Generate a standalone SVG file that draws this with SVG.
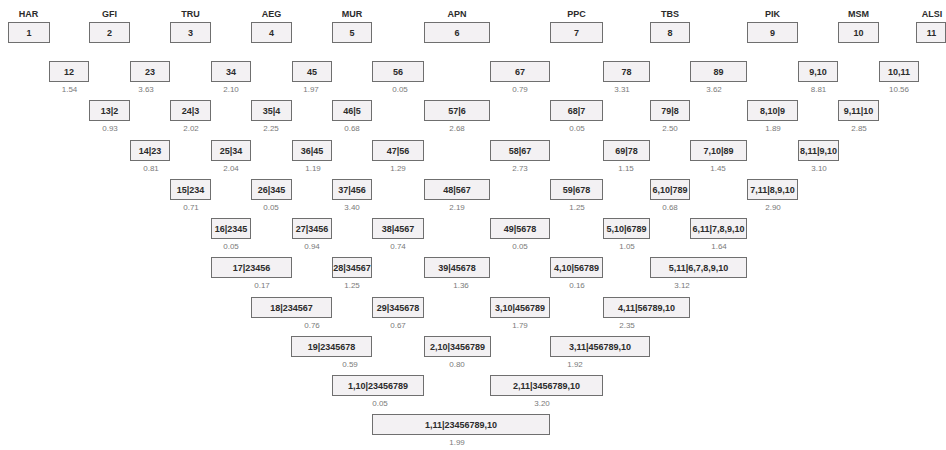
<svg xmlns="http://www.w3.org/2000/svg" width="946" height="450" viewBox="0 0 946 450">
<style>
.b{fill:#f3f1f3;stroke:#6f6f6f;stroke-width:1}
.l{font-family:"Liberation Sans",Arial,sans-serif;font-weight:bold;font-size:9px;fill:#2b2b2b;text-anchor:middle}
.h{font-family:"Liberation Sans",Arial,sans-serif;font-weight:bold;font-size:9px;fill:#2b2b2b;text-anchor:middle}
.v{font-family:"Liberation Sans",Arial,sans-serif;font-size:8px;fill:#7a7a7a;text-anchor:middle}
</style>
<rect width="946" height="450" fill="#ffffff"/>
<g id="n1"><text class="h" x="28.5" y="17">HAR</text><rect class="b" x="8.5" y="22.5" width="41" height="20"/><text class="l" x="29" y="36">1</text></g>
<g id="n2"><text class="h" x="109.5" y="17">GFI</text><rect class="b" x="89.5" y="22.5" width="40" height="20"/><text class="l" x="109.5" y="36">2</text></g>
<g id="n3"><text class="h" x="190.5" y="17">TRU</text><rect class="b" x="170.5" y="22.5" width="40" height="20"/><text class="l" x="190.5" y="36">3</text></g>
<g id="n4"><text class="h" x="271.5" y="17">AEG</text><rect class="b" x="251.5" y="22.5" width="40" height="20"/><text class="l" x="271.5" y="36">4</text></g>
<g id="n5"><text class="h" x="352" y="17">MUR</text><rect class="b" x="332.5" y="22.5" width="39" height="20"/><text class="l" x="352" y="36">5</text></g>
<g id="n6"><text class="h" x="457" y="17">APN</text><rect class="b" x="424.5" y="22.5" width="65" height="20"/><text class="l" x="457" y="36">6</text></g>
<g id="n7"><text class="h" x="576.5" y="17">PPC</text><rect class="b" x="550.5" y="22.5" width="52" height="20"/><text class="l" x="576.5" y="36">7</text></g>
<g id="n8"><text class="h" x="670" y="17">TBS</text><rect class="b" x="650.5" y="22.5" width="39" height="20"/><text class="l" x="670" y="36">8</text></g>
<g id="n9"><text class="h" x="772.5" y="17">PIK</text><rect class="b" x="747.5" y="22.5" width="50" height="20"/><text class="l" x="772.5" y="36">9</text></g>
<g id="n10"><text class="h" x="858.5" y="17">MSM</text><rect class="b" x="838.5" y="22.5" width="40" height="20"/><text class="l" x="858.5" y="36">10</text></g>
<g id="n11"><text class="h" x="932" y="17">ALSI</text><rect class="b" x="916.5" y="22.5" width="29" height="20"/><text class="l" x="931.5" y="36">11</text></g>

<g id="n12"><rect class="b" x="49.5" y="61.5" width="39" height="20"/><text class="l" x="69" y="75">12</text><text class="v" x="69.5" y="91.5">1.54</text></g>
<g id="n23"><rect class="b" x="130.5" y="61.5" width="39" height="20"/><text class="l" x="150" y="75">23</text><text class="v" x="146" y="91.5">3.63</text></g>
<g id="n34"><rect class="b" x="211.5" y="61.5" width="39" height="20"/><text class="l" x="231" y="75">34</text><text class="v" x="231" y="91.5">2.10</text></g>
<g id="n45"><rect class="b" x="292.5" y="61.5" width="39" height="20"/><text class="l" x="312" y="75">45</text><text class="v" x="311" y="91.5">1.97</text></g>
<g id="n56"><rect class="b" x="372.5" y="61.5" width="51" height="20"/><text class="l" x="398" y="75">56</text><text class="v" x="400" y="91.5">0.05</text></g>
<g id="n67"><rect class="b" x="490.5" y="61.5" width="59" height="20"/><text class="l" x="520" y="75">67</text><text class="v" x="520" y="91.5">0.79</text></g>
<g id="n78"><rect class="b" x="603.5" y="61.5" width="46" height="20"/><text class="l" x="626.5" y="75">78</text><text class="v" x="622" y="91.5">3.31</text></g>
<g id="n89"><rect class="b" x="690.5" y="61.5" width="56" height="20"/><text class="l" x="718.5" y="75">89</text><text class="v" x="714" y="91.5">3.62</text></g>
<g id="n9_10"><rect class="b" x="798.5" y="61.5" width="39" height="20"/><text class="l" x="818" y="75">9,10</text><text class="v" x="818.5" y="91.5">8.81</text></g>
<g id="n10_11"><rect class="b" x="879.5" y="61.5" width="39" height="20"/><text class="l" x="899" y="75">10,11</text><text class="v" x="899" y="91.5">10.56</text></g>

<g id="n13_2"><rect class="b" x="89.5" y="100.5" width="40" height="20"/><text class="l" x="109.5" y="114">13|2</text><text class="v" x="110" y="130.5">0.93</text></g>
<g id="n24_3"><rect class="b" x="170.5" y="100.5" width="40" height="20"/><text class="l" x="190.5" y="114">24|3</text><text class="v" x="191" y="130.5">2.02</text></g>
<g id="n35_4"><rect class="b" x="251.5" y="100.5" width="40" height="20"/><text class="l" x="271.5" y="114">35|4</text><text class="v" x="271" y="130.5">2.25</text></g>
<g id="n46_5"><rect class="b" x="332.5" y="100.5" width="39" height="20"/><text class="l" x="352" y="114">46|5</text><text class="v" x="352" y="130.5">0.68</text></g>
<g id="n57_6"><rect class="b" x="424.5" y="100.5" width="65" height="20"/><text class="l" x="457" y="114">57|6</text><text class="v" x="457" y="130.5">2.68</text></g>
<g id="n68_7"><rect class="b" x="550.5" y="100.5" width="52" height="20"/><text class="l" x="576.5" y="114">68|7</text><text class="v" x="577" y="130.5">0.05</text></g>
<g id="n79_8"><rect class="b" x="650.5" y="100.5" width="39" height="20"/><text class="l" x="670" y="114">79|8</text><text class="v" x="670" y="130.5">2.50</text></g>
<g id="n8_10_9"><rect class="b" x="747.5" y="100.5" width="50" height="20"/><text class="l" x="772.5" y="114">8,10|9</text><text class="v" x="773" y="130.5">1.89</text></g>
<g id="n9_11_10"><rect class="b" x="838.5" y="100.5" width="40" height="20"/><text class="l" x="858.5" y="114">9,11|10</text><text class="v" x="859" y="130.5">2.85</text></g>

<g id="n14_23"><rect class="b" x="130.5" y="140.5" width="39" height="20"/><text class="l" x="150" y="154">14|23</text><text class="v" x="151" y="170.5">0.81</text></g>
<g id="n25_34"><rect class="b" x="211.5" y="140.5" width="39" height="20"/><text class="l" x="231" y="154">25|34</text><text class="v" x="231" y="170.5">2.04</text></g>
<g id="n36_45"><rect class="b" x="292.5" y="140.5" width="39" height="20"/><text class="l" x="312" y="154">36|45</text><text class="v" x="313" y="170.5">1.19</text></g>
<g id="n47_56"><rect class="b" x="372.5" y="140.5" width="51" height="20"/><text class="l" x="398" y="154">47|56</text><text class="v" x="398" y="170.5">1.29</text></g>
<g id="n58_67"><rect class="b" x="490.5" y="140.5" width="59" height="20"/><text class="l" x="520" y="154">58|67</text><text class="v" x="520" y="170.5">2.73</text></g>
<g id="n69_78"><rect class="b" x="603.5" y="140.5" width="46" height="20"/><text class="l" x="626.5" y="154">69|78</text><text class="v" x="626" y="170.5">1.15</text></g>
<g id="n7_10_89"><rect class="b" x="690.5" y="140.5" width="56" height="20"/><text class="l" x="718.5" y="154">7,10|89</text><text class="v" x="718" y="170.5">1.45</text></g>
<g id="n8_11_9_10"><rect class="b" x="798.5" y="140.5" width="40" height="20"/><text class="l" x="818.5" y="154">8,11|9,10</text><text class="v" x="819" y="170.5">3.10</text></g>

<g id="n15_234"><rect class="b" x="170.5" y="179.5" width="40" height="20"/><text class="l" x="190.5" y="193">15|234</text><text class="v" x="191" y="209.5">0.71</text></g>
<g id="n26_345"><rect class="b" x="251.5" y="179.5" width="40" height="20"/><text class="l" x="271.5" y="193">26|345</text><text class="v" x="271" y="209.5">0.05</text></g>
<g id="n37_456"><rect class="b" x="332.5" y="179.5" width="39" height="20"/><text class="l" x="352" y="193">37|456</text><text class="v" x="352" y="209.5">3.40</text></g>
<g id="n48_567"><rect class="b" x="424.5" y="179.5" width="65" height="20"/><text class="l" x="457" y="193">48|567</text><text class="v" x="457" y="209.5">2.19</text></g>
<g id="n59_678"><rect class="b" x="550.5" y="179.5" width="52" height="20"/><text class="l" x="576.5" y="193">59|678</text><text class="v" x="577" y="209.5">1.25</text></g>
<g id="n6_10_789"><rect class="b" x="650.5" y="179.5" width="39" height="20"/><text class="l" x="670" y="193">6,10|789</text><text class="v" x="670" y="209.5">0.68</text></g>
<g id="n7_11_8_9_10"><rect class="b" x="747.5" y="179.5" width="50" height="20"/><text class="l" x="772.5" y="193">7,11|8,9,10</text><text class="v" x="773" y="209.5">2.90</text></g>

<g id="n16_2345"><rect class="b" x="211.5" y="218.5" width="39" height="20"/><text class="l" x="231" y="232">16|2345</text><text class="v" x="231" y="248.5">0.05</text></g>
<g id="n27_3456"><rect class="b" x="292.5" y="218.5" width="39" height="20"/><text class="l" x="312" y="232">27|3456</text><text class="v" x="312" y="248.5">0.94</text></g>
<g id="n38_4567"><rect class="b" x="372.5" y="218.5" width="51" height="20"/><text class="l" x="398" y="232">38|4567</text><text class="v" x="398" y="248.5">0.74</text></g>
<g id="n49_5678"><rect class="b" x="490.5" y="218.5" width="59" height="20"/><text class="l" x="520" y="232">49|5678</text><text class="v" x="520" y="248.5">0.05</text></g>
<g id="n5_10_6789"><rect class="b" x="603.5" y="218.5" width="46" height="20"/><text class="l" x="626.5" y="232">5,10|6789</text><text class="v" x="627" y="248.5">1.05</text></g>
<g id="n6_11_7_8_9_10"><rect class="b" x="690.5" y="218.5" width="56" height="20"/><text class="l" x="718.5" y="232">6,11|7,8,9,10</text><text class="v" x="719" y="248.5">1.64</text></g>

<g id="n17_23456"><rect class="b" x="211.5" y="257.5" width="80" height="20"/><text class="l" x="251.5" y="271">17|23456</text><text class="v" x="262" y="287.5">0.17</text></g>
<g id="n28_34567"><rect class="b" x="332.5" y="257.5" width="39" height="20"/><text class="l" x="352" y="271">28|34567</text><text class="v" x="352" y="287.5">1.25</text></g>
<g id="n39_45678"><rect class="b" x="424.5" y="257.5" width="65" height="20"/><text class="l" x="457" y="271">39|45678</text><text class="v" x="461" y="287.5">1.36</text></g>
<g id="n4_10_56789"><rect class="b" x="550.5" y="257.5" width="52" height="20"/><text class="l" x="576.5" y="271">4,10|56789</text><text class="v" x="577" y="287.5">0.16</text></g>
<g id="n5_11_6_7_8_9_10"><rect class="b" x="650.5" y="257.5" width="96" height="20"/><text class="l" x="698.5" y="271">5,11|6,7,8,9,10</text><text class="v" x="682" y="287.5">3.12</text></g>

<g id="n18_234567"><rect class="b" x="251.5" y="297.5" width="80" height="20"/><text class="l" x="291.5" y="311">18|234567</text><text class="v" x="312" y="327.5">0.76</text></g>
<g id="n29_345678"><rect class="b" x="372.5" y="297.5" width="51" height="20"/><text class="l" x="398" y="311">29|345678</text><text class="v" x="398" y="327.5">0.67</text></g>
<g id="n3_10_456789"><rect class="b" x="490.5" y="297.5" width="59" height="20"/><text class="l" x="520" y="311">3,10|456789</text><text class="v" x="520" y="327.5">1.79</text></g>
<g id="n4_11_56789_10"><rect class="b" x="603.5" y="297.5" width="86" height="20"/><text class="l" x="646.5" y="311">4,11|56789,10</text><text class="v" x="627" y="327.5">2.35</text></g>

<g id="n19_2345678"><rect class="b" x="291.5" y="336.5" width="80" height="20"/><text class="l" x="331.5" y="350">19|2345678</text><text class="v" x="350" y="366.5">0.59</text></g>
<g id="n2_10_3456789"><rect class="b" x="424.5" y="336.5" width="66" height="20"/><text class="l" x="457.5" y="350">2,10|3456789</text><text class="v" x="457" y="366.5">0.80</text></g>
<g id="n3_11_456789_10"><rect class="b" x="550.5" y="336.5" width="99" height="20"/><text class="l" x="600" y="350">3,11|456789,10</text><text class="v" x="575" y="366.5">1.92</text></g>

<g id="n1_10_23456789"><rect class="b" x="332.5" y="375.5" width="91" height="20"/><text class="l" x="378" y="389">1,10|23456789</text><text class="v" x="380" y="405.5">0.05</text></g>
<g id="n2_11_3456789_10"><rect class="b" x="490.5" y="375.5" width="112" height="20"/><text class="l" x="546.5" y="389">2,11|3456789,10</text><text class="v" x="542" y="405.5">3.20</text></g>

<g id="n1_11_23456789_10"><rect class="b" x="372.5" y="414.5" width="177" height="20"/><text class="l" x="461" y="428">1,11|23456789,10</text><text class="v" x="457" y="444.5">1.99</text></g>
</svg>
